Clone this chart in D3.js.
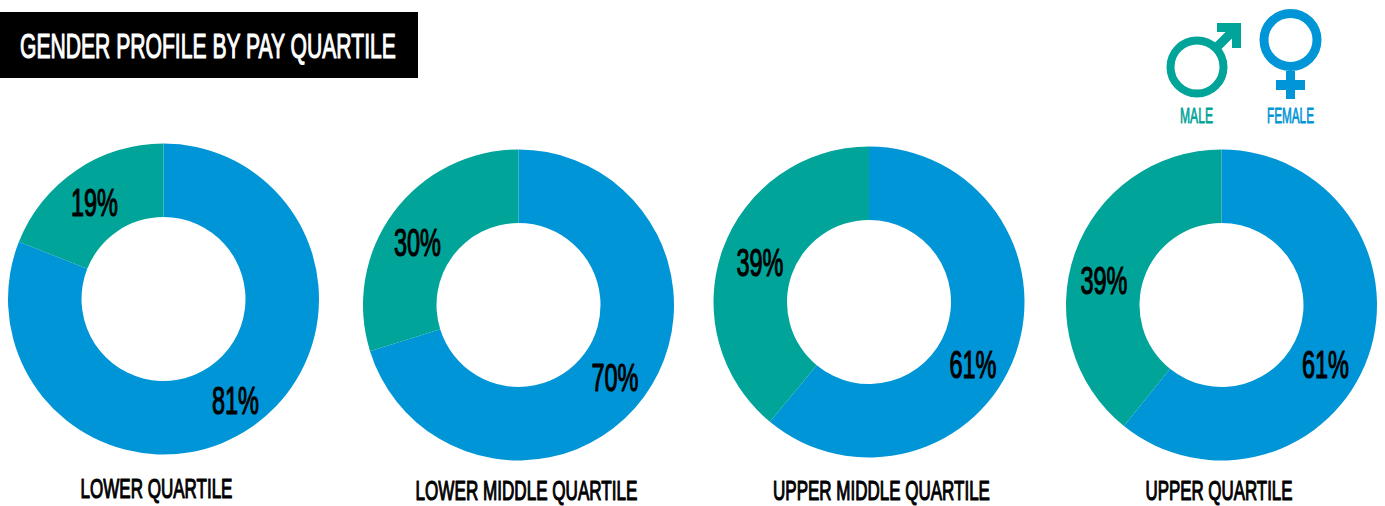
<!DOCTYPE html>
<html><head><meta charset="utf-8">
<script src="https://cdn.jsdelivr.net/npm/d3@7"></script>
<style>html,body{margin:0;padding:0;background:#fff;overflow:hidden}svg{display:block}
text{font-family:"Liberation Sans Narrow","Liberation Sans",sans-serif;font-weight:400;stroke-linejoin:round}</style></head>
<body><svg id="c" width="1385" height="506"></svg>
<script>
const categories=["LOWER QUARTILE","LOWER MIDDLE QUARTILE","UPPER MIDDLE QUARTILE","UPPER QUARTILE"];
const femaleValues=[81,70.2,61,60.8];
const maleValues=[19,29.8,39,39.2];
const colors={female:"#0095d6",male:"#00a499"};
const layout=[
 {cx:163.5,cy:299,lx:156.5,ly:497.5,lw:152,fl:[235.5,414],ml:[94.5,216]},
 {cx:518.5,cy:305,lx:526.5,ly:500,lw:222,fl:[615,391],ml:[417.5,256]},
 {cx:869,cy:302,lx:881.5,ly:500,lw:217,fl:[973,378],ml:[760,276]},
 {cx:1221.5,cy:305,lx:1219,ly:500,lw:147,fl:[1325.5,378],ml:[1104,294]}];
const R=155.5,r=82;
const svg=d3.select("#c");
function label(str,x,y,size,w,fill,anchor,sw){
  const t=svg.append("text").attr("font-size",size).attr("fill",fill)
    .attr("stroke",fill).attr("stroke-width",sw)
    .attr("text-anchor",anchor||"middle").text(str);
  const k=w/t.node().getComputedTextLength();
  t.attr("transform",`translate(${x},${y}) scale(${k},1)`);
  return t;
}
svg.append("rect").attr("x",0).attr("y",12).attr("width",418).attr("height",66).attr("fill","#000");
label("GENDER PROFILE BY PAY QUARTILE",20,57.5,36,376,"#fff","start",1.2);

const pie=d3.pie().sort(null).value(d=>d.v);
const arc=d3.arc().innerRadius(r).outerRadius(R);
categories.forEach((c,i)=>{
  const L=layout[i];
  const g=svg.append("g").attr("transform",`translate(${L.cx},${L.cy})`);
  g.selectAll("path").data(pie([{k:"female",v:femaleValues[i]},{k:"male",v:maleValues[i]}]))
   .join("path").attr("d",arc).attr("fill",d=>colors[d.data.k]);
  label(Math.round(femaleValues[i])+"%",L.fl[0],L.fl[1],38,47,"#000","middle",1.2);
  label(Math.round(maleValues[i])+"%",L.ml[0],L.ml[1],38,47,"#000","middle",1.2);
  label(c,L.lx,L.ly,28,L.lw,"#000","middle",1.2);
});
// gender symbols
const m=svg.append("g").attr("fill","none").attr("stroke",colors.male);
m.append("circle").attr("cx",1197).attr("cy",67).attr("r",26.5).attr("stroke-width",8);
m.append("path").attr("d","M1216,48L1234,30").attr("stroke-width",9);
svg.append("path").attr("d","M1217,23H1241V48H1232V32H1217Z").attr("fill",colors.male);
const f=svg.append("g").attr("fill","none").attr("stroke",colors.female);
f.append("circle").attr("cx",1290.5).attr("cy",40).attr("r",26.5).attr("stroke-width",9);
f.append("path").attr("d","M1290.5,71V99").attr("stroke-width",9);
f.append("path").attr("d","M1276,85H1305").attr("stroke-width",10);
label("MALE",1196.5,122.5,22,33,colors.male,"middle",0.8);
label("FEMALE",1290.5,123,22,47,colors.female,"middle",0.8);
</script></body></html>
